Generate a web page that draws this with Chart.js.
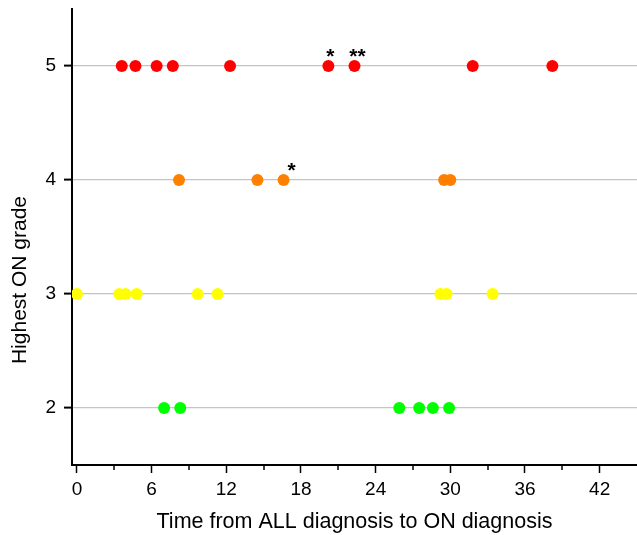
<!DOCTYPE html>
<html lang="en">
<head>
  <meta charset="UTF-8">
  <title>Highest ON grade</title>
  <script src="https://cdn.jsdelivr.net/npm/chart.js"></script>
  <style>
    body { margin: 0; background: #fff; }
  </style>
</head>
<body>
  <canvas id="myChart" width="637" height="535"></canvas>

<script>
  // time (x) of each case, split by highest ON grade
  const timesGrade5 = [3.6, 4.7, 6.4, 7.7, 12.3, 20.2, 22.3, 31.8, 38.2]
  const timesGrade4 = [8.2, 14.5, 16.6, 29.5, 30.0]
  const timesGrade3 = [0, 3.4, 3.9, 4.8, 9.7, 11.3, 29.2, 29.7, 33.4]
  const timesGrade2 = [7.0, 8.3, 25.9, 27.5, 28.6, 29.9]

  const xTicks = [0, 6, 12, 18, 24, 30, 36, 42]
  const xMinorTicks = [3, 9, 15, 21, 27, 33, 39]
  const yTicks = [2, 3, 4, 5]

  // asterisk marks next to some points
  const starTimes = [20.2, 22.3, 16.6]
  const starGrades = [5, 5, 4]
  const starLabels = ['*', '**', '*']

  const FONT = '"Liberation Sans", Arial, sans-serif'

  function toPoints(times, grade) {
    return times.map(t => ({ x: t, y: grade }))
  }

  const extras = {
    id: 'extras',
    afterDraw(chart) {
      const ctx = chart.ctx
      const x = chart.scales.x
      const y = chart.scales.y
      ctx.save()
      // minor ticks on x axis
      ctx.strokeStyle = '#000'
      ctx.lineWidth = 1.5
      xMinorTicks.forEach(v => {
        const px = Math.round(x.getPixelForValue(v))
        ctx.beginPath()
        ctx.moveTo(px, y.bottom)
        ctx.lineTo(px, y.bottom + 5)
        ctx.stroke()
      })
      // asterisks
      const shift = [2, 3, 8]
      ctx.fillStyle = '#000'
      ctx.font = 'bold 21px ' + FONT
      ctx.textAlign = 'center'
      ctx.textBaseline = 'alphabetic'
      starTimes.forEach((t, i) => {
        ctx.fillText(starLabels[i],
          x.getPixelForValue(t) + shift[i],
          y.getPixelForValue(starGrades[i]) - 3)
      })
      // y axis title (sits a bit below the middle in the original)
      ctx.translate(20, 280)
      ctx.rotate(-Math.PI / 2)
      ctx.font = '21px ' + FONT
      ctx.textBaseline = 'middle'
      ctx.fillText('Highest ON grade', 0, 0)
      ctx.restore()
    }
  }

  const ctx = document.getElementById('myChart')

  new Chart(ctx, {
    type: 'scatter',
    data: {
      datasets: [
        { data: toPoints(timesGrade5, 5), backgroundColor: '#ff0000' },
        { data: toPoints(timesGrade4, 4), backgroundColor: '#ff8000' },
        { data: toPoints(timesGrade3, 3), backgroundColor: '#ffff00' },
        { data: toPoints(timesGrade2, 2), backgroundColor: '#00ff00' },
      ]
    },
    options: {
      responsive: false,
      animation: false,
      layout: { autoPadding: false, padding: { top: 9, right: 0, left: 0, bottom: 0 } },
      elements: {
        point: { radius: 6, hoverRadius: 6, borderWidth: 0 }
      },
      plugins: {
        legend: { display: false },
        tooltip: { enabled: false }
      },
      scales: {
        x: {
          type: 'linear',
          min: -0.4,
          max: 45,
          afterBuildTicks: s => { s.ticks = xTicks.map(v => ({ value: v })) },
          afterFit: s => {
            s.height = 70
            s.paddingLeft = 0
            s.paddingRight = 0
          },
          border: { color: '#000', width: 2 },
          grid: { drawOnChartArea: false, tickLength: 8, tickColor: '#000', tickWidth: 1.5 },
          ticks: { color: '#000', padding: 5, font: { size: 19, family: FONT } },
          title: {
            display: true,
            text: 'Time from ALL diagnosis to ON diagnosis',
            color: '#000',
            padding: { top: 0, bottom: 0 },
            font: { size: 21.5, family: FONT }
          }
        },
        y: {
          min: 1.5,
          max: 5.5,
          afterBuildTicks: s => { s.ticks = yTicks.map(v => ({ value: v })) },
          afterFit: s => {
            s.width = 72
            s.paddingTop = 0
            s.paddingBottom = 0
          },
          border: { color: '#000', width: 2 },
          grid: { color: '#c4c4c4', lineWidth: 1.2, tickLength: 8, tickColor: '#000', tickWidth: 2 },
          ticks: { color: '#000', padding: 8, font: { size: 19, family: FONT } },
          title: { display: false }
        }
      }
    },
    plugins: [extras]
  });
</script>
</body>
</html>
